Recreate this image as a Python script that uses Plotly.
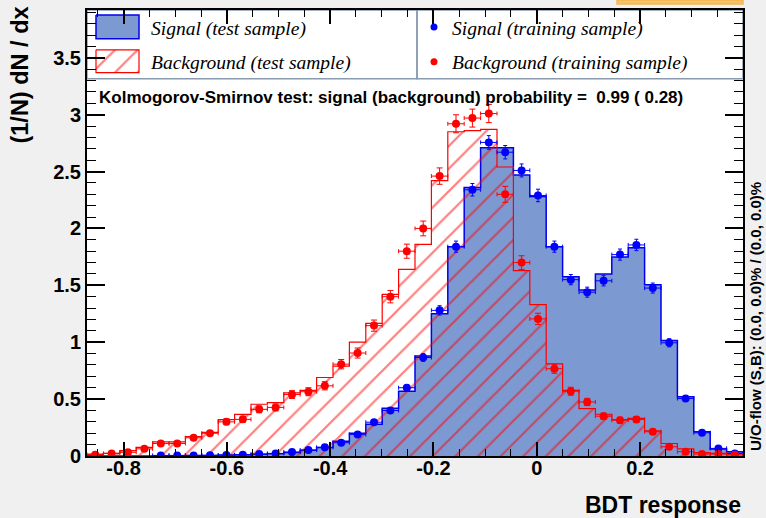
import plotly.graph_objects as go

# ---------------- data ----------------
HIST_MIN = -0.8707
HIST_MAX = 0.3993
N_BINS = 40

signal_test = [0, 0, 0, 0, 0.003, 0.003, 0.005, 0.005, 0.008, 0.01,
               0.015, 0.02, 0.03, 0.05, 0.075, 0.13, 0.2, 0.28, 0.42, 0.57,
               0.88, 1.25, 1.84, 2.36, 2.71, 2.71, 2.47, 2.28, 1.84, 1.575,
               1.46, 1.60, 1.75, 1.83, 1.505, 1.015, 0.52, 0.213, 0.061, 0.038]

background_test = [0.017, 0.023, 0.047, 0.076, 0.125, 0.125, 0.17, 0.207, 0.32, 0.365,
                   0.455, 0.47, 0.554, 0.577, 0.69, 0.79, 1.0, 1.166, 1.42, 1.64,
                   1.86, 2.42, 2.85, 2.86, 2.87, 2.54, 1.63, 1.33, 0.81, 0.577,
                   0.417, 0.367, 0.32, 0.33, 0.22, 0.11, 0.062, 0.03, 0.023, 0.02]

signal_train = [0, None, None, None, 0.005, 0.005, 0.005, 0.006, 0.008, 0.01,
                0.017, 0.023, 0.035, 0.052, 0.076, 0.117, 0.19, 0.297, 0.40, 0.60,
                0.866, 1.28, 1.84, 2.34, 2.756, 2.67, 2.51, 2.29, 1.84, 1.55,
                1.44, 1.54, 1.77, 1.855, 1.476, 0.995, 0.505, 0.204, 0.067, 0.023]

background_train = [0.012, 0.023, 0.033, 0.063, 0.11, 0.11, 0.16, 0.2, 0.30, 0.322,
                    0.41, 0.427, 0.54, 0.565, 0.617, 0.807, 0.905, 1.146, 1.40, 1.80,
                    2.00, 2.46, 2.92, 2.97, 3.01, 2.30, 1.70, 1.205, 0.767, 0.569,
                    0.475, 0.35, 0.315, 0.32, 0.213, 0.081, 0.038, 0.017, 0.017, 0.01]

background_train_err = [0.005, 0.007, 0.008, 0.012, 0.015, 0.015, 0.018, 0.02, 0.025, 0.026,
                        0.03, 0.03, 0.034, 0.035, 0.036, 0.041, 0.044, 0.049, 0.054, 0.062,
                        0.065, 0.072, 0.079, 0.079, 0.08, 0.07, 0.06, 0.05, 0.04, 0.035,
                        0.032, 0.027, 0.026, 0.026, 0.021, 0.013, 0.009, 0.006, 0.006, 0.005]

signal_train_err = [0.0, 0.0, 0.0, 0.0, 0.003, 0.003, 0.003, 0.003, 0.004, 0.004,
                    0.005, 0.006, 0.007, 0.009, 0.01, 0.013, 0.016, 0.02, 0.023, 0.028,
                    0.034, 0.041, 0.049, 0.055, 0.06, 0.059, 0.057, 0.055, 0.049, 0.045,
                    0.044, 0.045, 0.049, 0.05, 0.044, 0.036, 0.026, 0.016, 0.009, 0.005]

x_tick_vals = [-0.8, -0.6, -0.4, -0.2, 0, 0.2, 0.4]
x_tick_text = ["-0.8", "-0.6", "-0.4", "-0.2", "0", "0.2", "0.4"]
y_tick_vals = [0, 0.5, 1, 1.5, 2, 2.5, 3, 3.5]
y_tick_text = ["0", "0.5", "1", "1.5", "2", "2.5", "3", "3.5"]

ks_text = "Kolmogorov-Smirnov test: signal (background) probability =  0.99 ( 0.28)"
uo_text = "U/O-flow (S,B): (0.0, 0.0)% / (0.0, 0.0)%"

# ---------------- derived bin geometry ----------------
bw = (HIST_MAX - HIST_MIN) / N_BINS
edges = [HIST_MIN + i * bw for i in range(N_BINS + 1)]
centers = [HIST_MIN + (i + 0.5) * bw for i in range(N_BINS)]


def step_xy(vals):
    xs = [edges[0]] + edges[:-1] + [edges[-1], edges[-1]]
    ys = [0] + list(vals) + [vals[-1], 0]
    return xs, ys


SIG_FILL = "#7d99d1"
SIG_LINE = "#0000ee"
BKG = "#ff0000"
FONT = "Liberation Sans"
SERIF = "Liberation Serif"
HATCH = dict(shape="/", fgcolor=BKG, bgcolor="rgba(0,0,0,0)", size=16, solidity=0.14)

fig = go.Figure()

# signal test histogram (filled)
sx, sy = step_xy(signal_test)
fig.add_trace(go.Scatter(x=sx, y=sy, mode="lines", line=dict(color=SIG_LINE, width=1.5, shape="hv"),
                         fill="tozeroy", fillcolor=SIG_FILL, hoverinfo="skip", showlegend=False))

# background test histogram (hatched)
bx, by = step_xy(background_test)
fig.add_trace(go.Scatter(x=bx, y=by, mode="lines", line=dict(color=BKG, width=1.2, shape="hv"),
                         fill="tozeroy", fillcolor="rgba(0,0,0,0)", fillpattern=HATCH,
                         hoverinfo="skip", showlegend=False))

# training points
fig.add_trace(go.Scatter(x=centers, y=signal_train, mode="markers",
                         marker=dict(color="#0000ff", size=8),
                         error_x=dict(type="constant", value=bw / 2, color="#0000ff", thickness=1, width=2),
                         error_y=dict(type="data", array=signal_train_err, color="#0000ff", thickness=1, width=2),
                         showlegend=False))
fig.add_trace(go.Scatter(x=centers, y=background_train, mode="markers",
                         marker=dict(color=BKG, size=8),
                         error_x=dict(type="constant", value=bw / 2, color=BKG, thickness=1, width=2),
                         error_y=dict(type="data", array=background_train_err, color=BKG, thickness=1, width=3),
                         showlegend=False))

# ---------------- legend (drawn in a pixel overlay) ----------------
L, R, T, B = 87, 743, 8, 456
fig.add_trace(go.Scatter(x=[96, 139, 139, 96, 96], y=[13, 13, 37, 37, 13], mode="lines",
                         line=dict(color=SIG_LINE, width=1.5), fill="toself", fillcolor=SIG_FILL,
                         xaxis="x2", yaxis="y2", hoverinfo="skip", showlegend=False))
fig.add_trace(go.Scatter(x=[96, 139, 139, 96, 96], y=[48, 48, 71, 71, 48], mode="lines",
                         line=dict(color=BKG, width=1.2), fill="toself", fillcolor="rgba(0,0,0,0)",
                         fillpattern=HATCH,
                         xaxis="x2", yaxis="y2", hoverinfo="skip", showlegend=False))
fig.add_trace(go.Scatter(x=[434, 434], y=[25, 60], mode="markers",
                         marker=dict(color=["#0000ff", BKG], size=7),
                         xaxis="x2", yaxis="y2", hoverinfo="skip", showlegend=False))


def px(xp):
    return (xp - L) / (R - L)


def py(yp):
    return (B - yp) / (B - T)


shapes = [
    dict(type="rect", xref="paper", yref="paper", x0=px(87), x1=px(417), y0=py(77), y1=py(8),
         line=dict(color="#8a9bb0", width=1.5), fillcolor="rgba(0,0,0,0)", layer="below"),
    dict(type="rect", xref="paper", yref="paper", x0=px(417), x1=px(743), y0=py(77), y1=py(8),
         line=dict(color="#8a9bb0", width=1.5), fillcolor="rgba(0,0,0,0)", layer="below"),
    dict(type="rect", xref="paper", yref="paper", x0=px(617), x1=px(743), y0=py(2), y1=py(-2),
         line=dict(color="#f5b850", width=1.5), fillcolor="#f5c36e"),
]

annotations = [
    dict(text="<i>Signal (test sample)</i>", x=px(149), y=py(27), xanchor="left", yanchor="middle",
         font=dict(family=SERIF, size=19.5, color="black")),
    dict(text="<i>Background (test sample)</i>", x=px(149), y=py(61), xanchor="left", yanchor="middle",
         font=dict(family=SERIF, size=19.5, color="black")),
    dict(text="<i>Signal (training sample)</i>", x=px(450), y=py(27), xanchor="left", yanchor="middle",
         font=dict(family=SERIF, size=19.5, color="black")),
    dict(text="<i>Background (training sample)</i>", x=px(450), y=py(61), xanchor="left", yanchor="middle",
         font=dict(family=SERIF, size=19.5, color="black")),
    dict(text="<b>" + ks_text + "</b>", x=px(97), y=py(96), xanchor="left", yanchor="middle",
         font=dict(family=FONT, size=17, color="black")),
    dict(text="<b>(1/N) dN / dx</b>", textangle=-90, x=px(20), y=py(3), xanchor="center", yanchor="top",
         font=dict(family=FONT, size=23.5, color="black")),
    dict(text="<b>BDT response</b>", x=px(743), y=py(505), xanchor="right", yanchor="middle",
         font=dict(family=FONT, size=23, color="black")),
    dict(text="<b>" + uo_text + "</b>", textangle=-90, x=px(766), y=py(453), xanchor="right", yanchor="bottom",
         font=dict(family=FONT, size=15, color="black")),
]
for a in annotations:
    a.update(xref="paper", yref="paper", showarrow=False)

fig.update_layout(
    width=766, height=518,
    margin=dict(l=L, r=766 - R, t=T, b=518 - B),
    paper_bgcolor="#f0f0f0", plot_bgcolor="white",
    showlegend=False,
    shapes=shapes, annotations=annotations,
    xaxis=dict(range=[HIST_MIN, HIST_MAX], showgrid=False, zeroline=False,
               showline=True, linecolor="black", linewidth=2, mirror="allticks",
               ticks="inside", ticklen=14, tickwidth=1.5, tickcolor="black",
               tickvals=x_tick_vals, ticktext=x_tick_text, ticklabelstandoff=-7,
               tickfont=dict(family=FONT, size=20, color="black", weight="bold"),
               minor=dict(ticks="inside", ticklen=7, tickwidth=1.2, tickcolor="black", dtick=0.05, tick0=0, showgrid=False)),
    yaxis=dict(range=[0, 3.92], showgrid=False, zeroline=False,
               showline=True, linecolor="black", linewidth=2, mirror="allticks",
               ticks="inside", ticklen=18, tickwidth=1.5, tickcolor="black",
               tickvals=y_tick_vals, ticktext=y_tick_text,
               tickfont=dict(family=FONT, size=20, color="black", weight="bold"),
               minor=dict(ticks="inside", ticklen=9, tickwidth=1.2, tickcolor="black", dtick=0.1, tick0=0, showgrid=False)),
    xaxis2=dict(overlaying="x", range=[L, R], visible=False, fixedrange=True),
    yaxis2=dict(overlaying="y", range=[B, T], visible=False, fixedrange=True),
)

fig.write_html("out.html")
